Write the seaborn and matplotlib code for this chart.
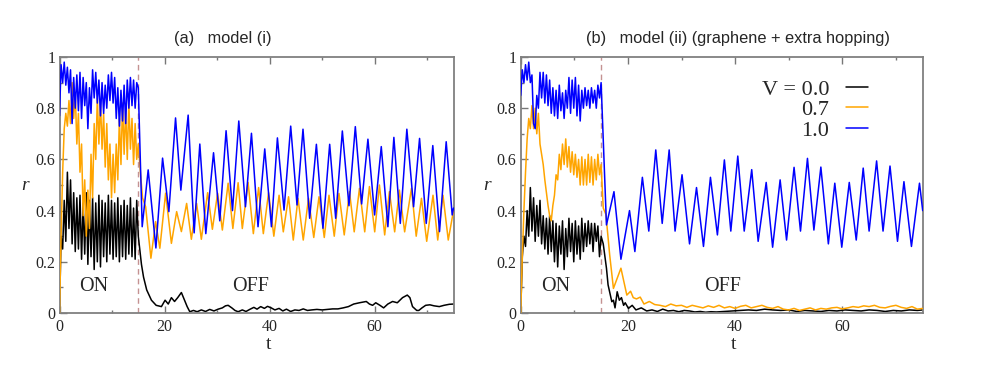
import matplotlib
matplotlib.use("Agg")
import matplotlib.pyplot as plt
import numpy as np
import pandas as pd
import seaborn as sns
from matplotlib.ticker import MultipleLocator, FixedLocator, FixedFormatter

sns.set_style("white")
plt.rcParams["font.family"] = ["Liberation Serif", "DejaVu Serif"]

# ---------------- data ----------------
# common time grid for the driven ("ON") stage (extrema of the fast oscillation)
t_on = [0.0, 0.3, 0.6, 0.9, 1.2, 1.5, 1.8, 2.1, 2.4, 2.7, 3.0, 3.3, 3.6, 3.9, 4.2,
        4.5, 4.8, 5.1, 5.4, 5.7, 6.0, 6.3, 6.6, 6.9, 7.2, 7.5, 7.8, 8.1, 8.4, 8.7,
        9.0, 9.3, 9.6, 9.9, 10.2, 10.5, 10.8, 11.1, 11.4, 11.7, 12.0, 12.3, 12.6,
        12.9, 13.2, 13.5, 13.8, 14.1, 14.4, 14.7, 15.0]

# ---- panel (a): model (i) ----
a_black_on = [0.0, 0.30, 0.25, 0.44, 0.28, 0.55, 0.33, 0.52, 0.27, 0.47, 0.24, 0.45, 0.25,
              0.46, 0.21, 0.43, 0.23, 0.47, 0.19, 0.44, 0.22, 0.45, 0.17, 0.43, 0.20, 0.46,
              0.18, 0.44, 0.22, 0.43, 0.20, 0.46, 0.23, 0.44, 0.21, 0.43, 0.22, 0.45, 0.20,
              0.42, 0.22, 0.44, 0.21, 0.42, 0.23, 0.45, 0.22, 0.41, 0.21, 0.44, 0.30]
a_orange_on = [0.0, 0.30, 0.55, 0.72, 0.78, 0.73, 0.83, 0.74, 0.90, 0.76, 0.86, 0.66, 0.78,
               0.55, 0.66, 0.38, 0.52, 0.30, 0.48, 0.33, 0.62, 0.45, 0.74, 0.60, 0.84, 0.66,
               0.83, 0.64, 0.78, 0.57, 0.74, 0.52, 0.66, 0.45, 0.62, 0.47, 0.66, 0.52, 0.76,
               0.58, 0.82, 0.62, 0.80, 0.60, 0.82, 0.64, 0.76, 0.58, 0.74, 0.60, 0.66]
a_blue_on = [0.77, 0.97, 0.90, 0.98, 0.89, 0.96, 0.86, 0.95, 0.74, 0.92, 0.80, 0.93, 0.79,
             0.94, 0.76, 0.92, 0.81, 0.90, 0.72, 0.88, 0.78, 0.95, 0.84, 0.94, 0.82, 0.91,
             0.77, 0.90, 0.78, 0.89, 0.80, 0.93, 0.83, 0.94, 0.82, 0.92, 0.76, 0.88, 0.73,
             0.87, 0.75, 0.89, 0.74, 0.91, 0.80, 0.92, 0.81, 0.91, 0.80, 0.90, 0.88]

a_black_off_t = [15.6, 16.0, 16.6, 17.5, 18.4, 19.4, 20.1, 20.7, 21.3, 21.9, 22.5, 23.2, 23.8,
                 24.3, 24.8, 25.5, 26.2, 27.0, 27.8, 28.6, 29.4, 30.2, 31.0, 31.6, 32.1, 32.8,
                 33.4, 34.0, 34.8, 35.5, 36.3, 37.0, 37.6, 38.3, 39.0, 39.6, 40.3, 41.0, 41.8,
                 42.5, 43.2, 44.0, 44.8, 45.6, 46.4, 47.2, 48.0, 49.0, 50.0, 51.0, 52.0, 53.0,
                 54.0, 55.0, 56.0, 57.1, 58.4, 59.0, 59.6, 60.2, 61.0, 61.7, 62.5, 63.4, 64.3,
                 65.3, 66.2, 66.7, 67.2, 68.0, 68.4, 69.0, 69.7, 70.5, 71.3, 72.3, 73.2, 74.2, 75.0]
a_black_off_r = [0.19, 0.14, 0.09, 0.05, 0.03, 0.025, 0.05, 0.035, 0.06, 0.045, 0.06, 0.08, 0.05,
                 0.025, 0.005, 0.01, 0.005, 0.012, 0.006, 0.014, 0.008, 0.015, 0.02, 0.028, 0.03,
                 0.02, 0.01, 0.005, 0.012, 0.006, 0.015, 0.022, 0.015, 0.025, 0.018, 0.026, 0.02,
                 0.012, 0.018, 0.008, 0.015, 0.006, 0.012, 0.01, 0.016, 0.01, 0.012, 0.014, 0.012,
                 0.014, 0.016, 0.016, 0.02, 0.025, 0.035, 0.04, 0.045, 0.035, 0.03, 0.04, 0.03,
                 0.02, 0.035, 0.045, 0.04, 0.06, 0.07, 0.06, 0.025, 0.01, 0.01, 0.02, 0.03, 0.032,
                 0.028, 0.025, 0.03, 0.034, 0.035]

a_orange_off_t = [15.4, 15.8, 16.4, 17.4, 18.3, 19.1, 20.2, 21.3, 22.3, 23.2, 24.2, 25.1, 26.1,
                  27.0, 28.2, 29.1, 30.1, 31.0, 32.1, 33.0, 34.0, 34.8, 35.9, 36.9, 37.9, 38.8,
                  39.8, 40.8, 41.8, 42.6, 43.6, 44.5, 45.4, 46.4, 47.4, 48.4, 49.4, 50.4, 51.3,
                  52.3, 53.2, 54.2, 55.2, 56.1, 57.1, 58.1, 59.0, 60.0, 60.9, 61.9, 62.8, 63.8,
                  64.7, 65.7, 67.0, 67.9, 68.9, 69.9, 71.1, 72.0, 73.0, 74.0, 75.0]
a_orange_off_r = [0.55, 0.45, 0.415, 0.214, 0.357, 0.253, 0.468, 0.272, 0.396, 0.318, 0.428,
                  0.288, 0.428, 0.288, 0.47, 0.327, 0.468, 0.324, 0.507, 0.33, 0.509, 0.33, 0.51,
                  0.31, 0.49, 0.31, 0.47, 0.30, 0.46, 0.317, 0.454, 0.285, 0.448, 0.285, 0.448,
                  0.295, 0.454, 0.295, 0.46, 0.30, 0.467, 0.305, 0.474, 0.317, 0.487, 0.317, 0.494,
                  0.317, 0.50, 0.305, 0.474, 0.317, 0.48, 0.317, 0.487, 0.30, 0.448, 0.28, 0.46,
                  0.285, 0.46, 0.285, 0.40]

a_blue_off_t = [15.74, 16.88, 18.35, 19.62, 20.82, 22.09, 23.10, 24.49, 25.63, 26.71, 27.85,
                29.32, 30.51, 31.71, 32.93, 34.13, 35.40, 36.54, 37.79, 39.07, 40.34, 41.48,
                42.74, 44.01, 45.21, 46.35, 47.62, 48.90, 50.15, 51.43, 52.57, 53.84, 55.10,
                56.31, 57.51, 58.71, 59.98, 61.25, 62.51, 63.65, 64.87, 66.12, 67.40, 68.54,
                69.81, 71.06, 72.34, 73.61, 74.75, 75.0]
a_blue_off_r = [0.337, 0.559, 0.254, 0.605, 0.396, 0.762, 0.480, 0.773, 0.313, 0.660, 0.310,
                0.626, 0.360, 0.712, 0.40, 0.750, 0.415, 0.702, 0.337, 0.641, 0.337, 0.684,
                0.402, 0.730, 0.422, 0.718, 0.370, 0.659, 0.331, 0.659, 0.370, 0.711, 0.419,
                0.728, 0.426, 0.679, 0.383, 0.650, 0.337, 0.686, 0.350, 0.718, 0.415, 0.682,
                0.350, 0.654, 0.318, 0.669, 0.383, 0.41]

# ---- panel (b): model (ii) ----
b_black_on = [0.0, 0.22, 0.30, 0.26, 0.40, 0.30, 0.49, 0.32, 0.45, 0.28, 0.42, 0.30, 0.44,
              0.27, 0.38, 0.25, 0.37, 0.23, 0.38, 0.24, 0.36, 0.20, 0.35, 0.18, 0.34, 0.23,
              0.36, 0.17, 0.33, 0.22, 0.37, 0.24, 0.35, 0.20, 0.36, 0.23, 0.34, 0.21, 0.37,
              0.24, 0.35, 0.26, 0.36, 0.27, 0.35, 0.24, 0.35, 0.28, 0.34, 0.22, 0.30]
b_orange_on = [0.0, 0.22, 0.40, 0.55, 0.68, 0.76, 0.72, 0.81, 0.72, 0.80, 0.70, 0.78, 0.66,
               0.62, 0.58, 0.52, 0.47, 0.42, 0.38, 0.36, 0.42, 0.46, 0.54, 0.52, 0.62, 0.56,
               0.66, 0.58, 0.68, 0.57, 0.65, 0.55, 0.63, 0.54, 0.62, 0.53, 0.60, 0.50, 0.61,
               0.50, 0.60, 0.50, 0.62, 0.51, 0.61, 0.50, 0.60, 0.52, 0.62, 0.54, 0.58]
b_blue_on = [0.85, 0.95, 0.90, 0.97, 0.91, 0.98, 0.90, 0.93, 0.74, 0.72, 0.85, 0.80, 0.94,
             0.84, 0.94, 0.82, 0.93, 0.81, 0.91, 0.78, 0.88, 0.77, 0.87, 0.76, 0.89, 0.79,
             0.86, 0.76, 0.87, 0.80, 0.92, 0.78, 0.91, 0.80, 0.92, 0.77, 0.89, 0.75, 0.87,
             0.80, 0.88, 0.81, 0.87, 0.80, 0.88, 0.82, 0.87, 0.80, 0.89, 0.84, 0.90]

b_black_off_t = [15.4, 16.0, 16.3, 17.0, 17.3, 17.6, 18.0, 18.4, 18.8, 19.2, 19.5, 20.1, 20.8,
                 21.5, 22.5, 23.5, 24.5, 25.5, 26.5, 27.5, 28.5, 29.5, 30.5, 31.5, 32.5, 33.5,
                 34.5, 35.5, 36.5, 38.0, 39.5, 41.0, 42.5, 44.0, 45.5, 47.0, 48.5, 50.0, 51.5,
                 53.0, 54.5, 56.0, 57.5, 59.0, 60.5, 62.0, 63.5, 65.0, 66.5, 68.0, 69.5, 71.0,
                 72.5, 74.0, 75.0]
b_black_off_r = [0.27, 0.175, 0.11, 0.044, 0.05, 0.02, 0.083, 0.05, 0.06, 0.03, 0.04, 0.018,
                 0.03, 0.012, 0.02, 0.008, 0.012, 0.006, 0.015, 0.008, 0.01, 0.005, 0.01, 0.008,
                 0.004, 0.006, 0.003, 0.005, 0.004, 0.006, 0.008, 0.01, 0.012, 0.01, 0.015, 0.012,
                 0.01, 0.012, 0.006, 0.01, 0.008, 0.006, 0.01, 0.008, 0.012, 0.01, 0.008, 0.012,
                 0.01, 0.006, 0.01, 0.008, 0.012, 0.01, 0.012]

b_orange_off_t = [15.4, 15.9, 16.6, 17.3, 18.7, 19.8, 20.5, 21.0, 21.6, 22.3, 23.0, 24.0, 25.0,
                  26.0, 27.0, 28.0, 29.0, 30.0, 31.0, 32.0, 33.0, 34.0, 35.0, 36.0, 37.0, 38.0,
                  39.0, 40.0, 41.0, 42.0, 43.0, 44.0, 45.0, 46.0, 47.0, 48.0, 49.0, 50.0, 51.0,
                  52.0, 53.0, 54.0, 55.0, 56.0, 57.0, 58.0, 59.0, 60.0, 61.0, 62.0, 63.0, 64.0,
                  65.0, 66.0, 67.0, 68.0, 69.0, 70.0, 71.0, 72.0, 73.0, 74.0, 75.0]
b_orange_off_r = [0.41, 0.385, 0.227, 0.096, 0.175, 0.07, 0.085, 0.06, 0.055, 0.062, 0.035,
                  0.045, 0.033, 0.03, 0.025, 0.035, 0.028, 0.03, 0.022, 0.03, 0.025, 0.02, 0.028,
                  0.022, 0.03, 0.02, 0.025, 0.018, 0.026, 0.03, 0.02, 0.025, 0.03, 0.022, 0.018,
                  0.025, 0.015, 0.012, 0.018, 0.01, 0.015, 0.02, 0.012, 0.018, 0.015, 0.02, 0.022,
                  0.016, 0.02, 0.025, 0.022, 0.028, 0.025, 0.03, 0.022, 0.02, 0.026, 0.03, 0.022,
                  0.018, 0.025, 0.015, 0.018]

b_blue_off_t = [16.0, 17.4, 18.7, 20.3, 21.3, 22.7, 23.9, 25.2, 26.4, 27.7, 28.8, 30.1, 31.5,
                32.8, 34.1, 35.4, 36.7, 38.0, 39.2, 40.5, 41.7, 43.1, 44.3, 45.8, 47.0, 48.4,
                49.6, 51.0, 52.2, 53.5, 54.7, 56.0, 57.4, 58.6, 59.9, 61.3, 62.6, 63.9, 65.0,
                66.4, 67.6, 68.9, 70.3, 71.5, 72.9, 74.4, 75.0]
b_blue_off_r = [0.344, 0.474, 0.21, 0.40, 0.24, 0.53, 0.32, 0.637, 0.35, 0.637, 0.32, 0.54,
                0.27, 0.49, 0.26, 0.53, 0.305, 0.598, 0.32, 0.613, 0.32, 0.56, 0.28, 0.51,
                0.257, 0.52, 0.285, 0.569, 0.32, 0.604, 0.324, 0.57, 0.27, 0.507, 0.257, 0.51,
                0.285, 0.566, 0.32, 0.594, 0.32, 0.574, 0.28, 0.513, 0.26, 0.507, 0.40]

v_labels = ["V = 0.0", "0.7", "1.0"]
colors = ["#000000", "#FFA500", "#0000FF"]
x_major = [0, 20, 40, 60]
y_major = [0, 0.2, 0.4, 0.6, 0.8, 1.0]
y_major_labels = ["0", "0.2", "0.4", "0.6", "0.8", "1"]
t_switch = 15
titles = ["(a)   model (i)", "(b)   model (ii) (graphene + extra hopping)"]

# ---------------- figure ----------------
W, H = 981, 369
fig = plt.figure(figsize=(W / 100, H / 100), dpi=100)
axA = fig.add_axes([59.5 / W, 1 - 313 / H, 394 / W, 256 / H])
axB = fig.add_axes([520.7 / W, 1 - 313 / H, 402 / W, 256 / H])

panels = [
    (axA, [(a_black_on, a_black_off_t, a_black_off_r),
           (a_orange_on, a_orange_off_t, a_orange_off_r),
           (a_blue_on, a_blue_off_t, a_blue_off_r)]),
    (axB, [(b_black_on, b_black_off_t, b_black_off_r),
           (b_orange_on, b_orange_off_t, b_orange_off_r),
           (b_blue_on, b_blue_off_t, b_blue_off_r)]),
]

for pi, (ax, curves) in enumerate(panels):
    ax.axvline(t_switch, color="#c49292", lw=1.0, ls=(0, (4, 3)), zorder=1)
    for ci, (r_on, t_off, r_off) in enumerate(curves):
        df = pd.DataFrame({"t": list(t_on) + list(t_off), "r": list(r_on) + list(r_off)})
        sns.lineplot(data=df, x="t", y="r", ax=ax, color=colors[ci], lw=1.1,
                     estimator=None, sort=False, zorder=2 + ci,
                     label=v_labels[ci] if pi == 1 else None, legend=False)
    ax.set_xlim(0, 75)
    ax.set_ylim(0, 1)
    ax.xaxis.set_major_locator(FixedLocator(x_major))
    ax.xaxis.set_minor_locator(MultipleLocator(10))
    ax.yaxis.set_major_locator(FixedLocator(y_major))
    ax.yaxis.set_major_formatter(FixedFormatter(y_major_labels))
    ax.yaxis.set_minor_locator(MultipleLocator(0.1))
    ax.tick_params(which="both", direction="in", top=True, right=False,
                   bottom=True, left=True, color="#777777", labelsize=11.5)
    ax.tick_params(which="major", length=5, width=1.0)
    ax.tick_params(which="minor", length=2.5, width=1.0)
    ax.tick_params(axis="x", pad=4)
    ax.tick_params(axis="y", pad=3)
    for s in ax.spines.values():
        s.set_color("#808080")
        s.set_linewidth(1.3)
    ax.set_xlabel("t", fontsize=14)
    ax.xaxis.set_label_coords(0.53, -0.088)
    ax.set_ylabel("r", fontsize=14, fontstyle="italic", rotation=0, va="center")
    ax.text(6.6, 0.105, "ON", fontsize=14.5, ha="center", va="center")

axA.yaxis.set_label_coords(-0.088, 0.5)
axB.yaxis.set_label_coords(-0.084, 0.5)
axA.text(36.3, 0.105, "OFF", fontsize=14.5, ha="center", va="center")
axB.text(37.7, 0.105, "OFF", fontsize=14.5, ha="center", va="center")

axB.legend(loc="upper right", bbox_to_anchor=(0.903, 0.975), frameon=False,
           markerfirst=False, fontsize=16, handlelength=1.0, handletextpad=0.75,
           labelspacing=0.0, borderpad=0.2)

fig.text(223 / W, 1 - 38 / H, titles[0], ha="center", va="center", fontsize=11.8,
         family=["Liberation Sans Narrow", "Liberation Sans", "DejaVu Sans"])
fig.text(738 / W, 1 - 38 / H, titles[1], ha="center", va="center", fontsize=11.8,
         family=["Liberation Sans Narrow", "Liberation Sans", "DejaVu Sans"])

fig.savefig("out.png", dpi=100)
